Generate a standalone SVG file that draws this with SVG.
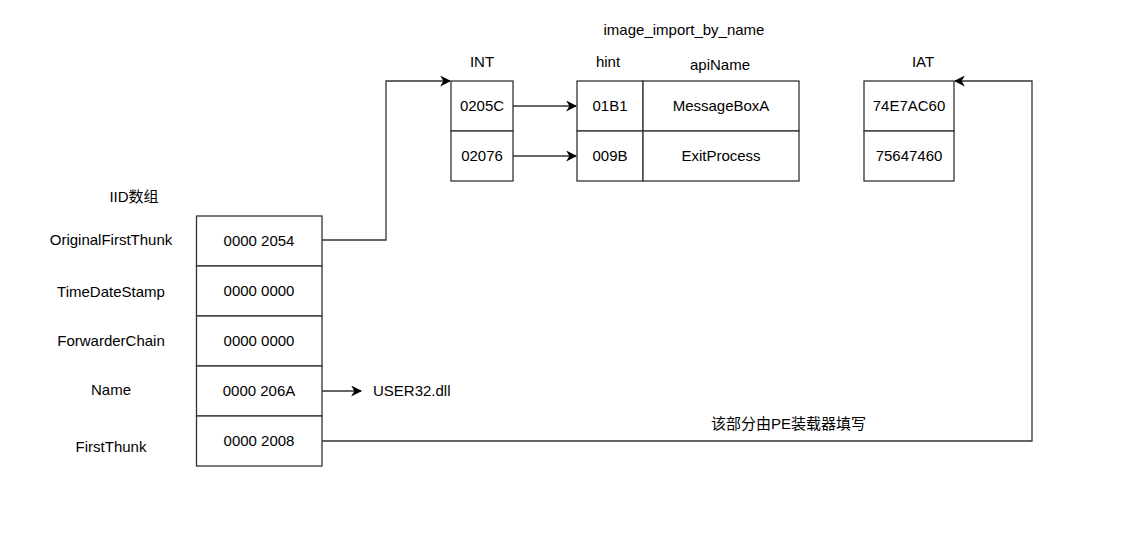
<svg xmlns="http://www.w3.org/2000/svg" width="1129" height="542" viewBox="0 0 1129 542">
<defs>
<style>
.box{fill:#fff;stroke:#333;stroke-width:1.3}
.t{font-family:"Liberation Sans",Arial,"Noto Sans CJK SC",sans-serif;font-size:15px;fill:#000;text-anchor:middle;dominant-baseline:central}
.l{text-anchor:start}
.c{fill:none;stroke:#333;stroke-width:1.3}
</style>
<marker id="ah" viewBox="0 0 10 10" refX="9" refY="5" markerWidth="11" markerHeight="11" markerUnits="userSpaceOnUse" orient="auto">
<path d="M0,0 L10,5 L0,10 L3,5 Z" fill="#000"/>
</marker>
</defs>
<rect width="1129" height="542" fill="#fff"/>
<g id="labels">
<text class="t" x="684" y="29">image_import_by_name</text>
<text class="t" x="482" y="61">INT</text>
<text class="t" x="608" y="61">hint</text>
<text class="t" x="720" y="64">apiName</text>
<text class="t" x="923" y="61">IAT</text>
<text class="t" x="134" y="196">IID数组</text>
<text class="t" x="111" y="239">OriginalFirstThunk</text>
<text class="t" x="111" y="291">TimeDateStamp</text>
<text class="t" x="111" y="340">ForwarderChain</text>
<text class="t" x="111" y="389">Name</text>
<text class="t" x="111" y="446">FirstThunk</text>
<text class="t l" x="373" y="390">USER32.dll</text>
<text class="t l" x="711" y="423">该部分由PE装载器填写</text>
</g>
<g id="iid">
<rect class="box" x="196.5" y="216" width="125.5" height="50"/>
<rect class="box" x="196.5" y="266" width="125.5" height="50"/>
<rect class="box" x="196.5" y="316" width="125.5" height="50"/>
<rect class="box" x="196.5" y="366" width="125.5" height="50"/>
<rect class="box" x="196.5" y="416" width="125.5" height="50"/>
<text class="t" x="259" y="240">0000 2054</text>
<text class="t" x="259" y="290">0000 0000</text>
<text class="t" x="259" y="340">0000 0000</text>
<text class="t" x="259" y="390">0000 206A</text>
<text class="t" x="259" y="440">0000 2008</text>
</g>
<g id="int">
<rect class="box" x="451" y="81" width="62" height="50"/>
<rect class="box" x="451" y="131" width="62" height="50"/>
<text class="t" x="482" y="105">0205C</text>
<text class="t" x="482" y="155">02076</text>
</g>
<g id="ibn">
<rect class="box" x="577" y="81" width="66" height="50"/>
<rect class="box" x="643" y="81" width="156" height="50"/>
<rect class="box" x="577" y="131" width="66" height="50"/>
<rect class="box" x="643" y="131" width="156" height="50"/>
<text class="t" x="610" y="105">01B1</text>
<text class="t" x="721" y="105">MessageBoxA</text>
<text class="t" x="610" y="155">009B</text>
<text class="t" x="721" y="155">ExitProcess</text>
</g>
<g id="iat">
<rect class="box" x="864" y="81" width="90" height="50"/>
<rect class="box" x="864" y="131" width="90" height="50"/>
<text class="t" x="909" y="105">74E7AC60</text>
<text class="t" x="909" y="155">75647460</text>
</g>
<g id="connectors">
<path class="c" d="M322,240 H386 V81 H450" marker-end="url(#ah)"/>
<path class="c" d="M513,106 H576" marker-end="url(#ah)"/>
<path class="c" d="M513,156 H576" marker-end="url(#ah)"/>
<path class="c" d="M322,391 H361" marker-end="url(#ah)"/>
<path class="c" d="M322,441 H1032 V81 H955" marker-end="url(#ah)"/>
</g>
</svg>
